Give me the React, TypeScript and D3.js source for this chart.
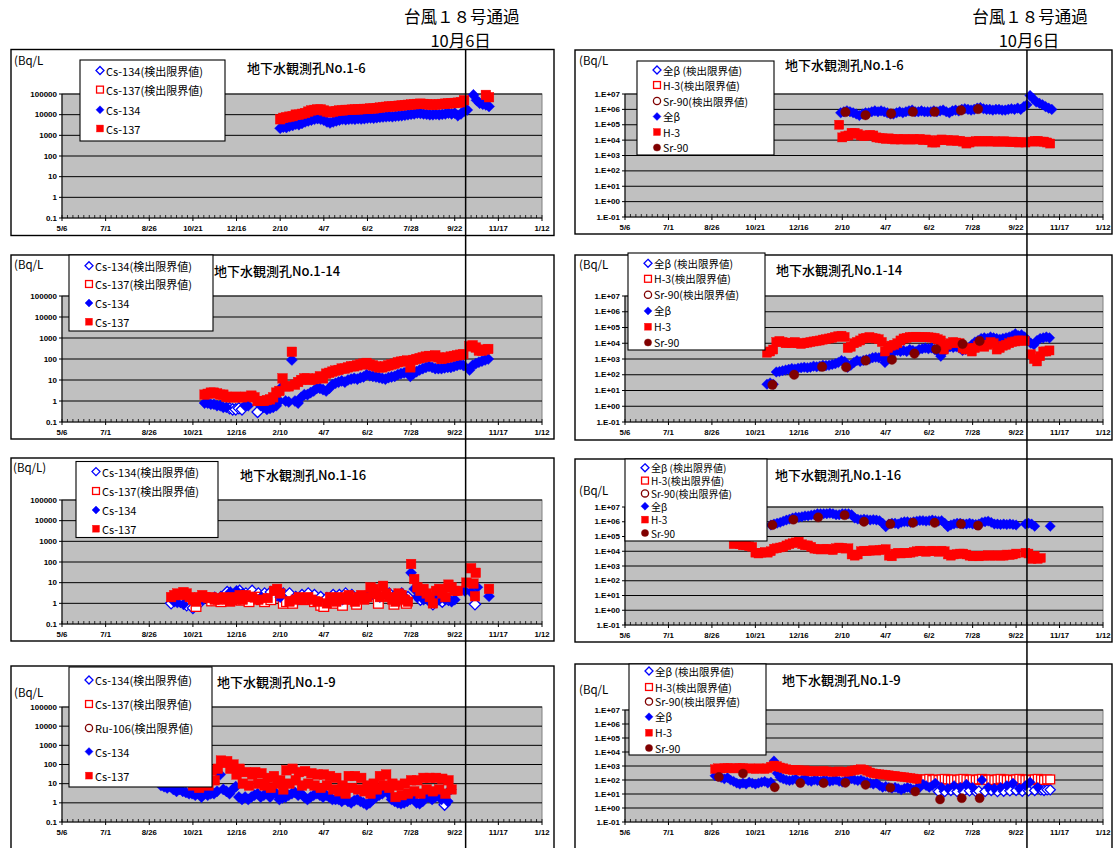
import React, { useEffect } from "react";
import * as d3 from "d3";

// ---------------- axis / label data ----------------
const X_START = "2013-05-06";
const X_END = "2015-01-12";
const X_TICK_DATES = ["2013-05-06", "2013-07-01", "2013-08-26", "2013-10-21", "2013-12-16", "2014-02-10", "2014-04-07", "2014-06-02", "2014-07-28", "2014-09-22", "2014-11-17", "2015-01-12"];
const TYPHOON_DATE = "2014-10-06";
const TYPHOON_LABEL = "台風１８号通過";
const TYPHOON_DATE_LABEL = "10月6日";
const CS_TICKS = [0.1, 1, 10, 100, 1000, 10000, 100000];
const BETA_TICKS = [0.1, 1, 10, 100, 1e3, 1e4, 1e5, 1e6, 1e7];
const UNIT = "(Bq/L";
const UNIT_CLOSED = "(Bq/L)";
const CS_LEGEND = ["Cs-134(検出限界値)", "Cs-137(検出限界値)", "Cs-134", "Cs-137"];
const CS_LEGEND_19 = ["Cs-134(検出限界値)", "Cs-137(検出限界値)", "Ru-106(検出限界値)", "Cs-134", "Cs-137"];
const BETA_LEGEND = ["全β (検出限界値)", "H-3(検出限界値)", "Sr-90(検出限界値)", "全β", "H-3", "Sr-90"];
const TITLES = ["地下水観測孔No.1-6", "地下水観測孔No.1-14", "地下水観測孔No.1-16", "地下水観測孔No.1-9"];

// ---------------- No.1-6 Cs ----------------
const L1_START = "2014-02-10";
const L1_CS134 = [2200, 2500, 2400, 2800, 3000, 3500, 3300, 3800, 4500, 5000, 5500, 6000, 6500, 6000, 5500, 4500, 4000, 4500, 5000, 5500,
  6000, 5800, 6000, 6200, 6000, 6500, 6200, 6500, 6800, 7000, 6800, 7200, 7500, 7800, 8000, 8200, 8000, 8500, 8800, 9000,
  9500, 10000, 10500, 11000, 12000, 11500, 11000, 10500, 10000, 10000, 10500, 10000, 10500, 11000, 12000, 11000, 12000, 9000, 11000, 15000,
  17000, null, 90000, 50000, 36000, 32000, 30000, 25000];
const L1_CS137 = [6000, 7000, 7500, 8000, 8500, 10000, 10000, 11000, 12000, 14000, 16000, 17000, 18000, 18000, 16000, 14000, 13000, 14000, 15000, 16000,
  16000, 17000, 17000, 17500, 18000, 18000, 18500, 19000, 19000, 20000, 20000, 21000, 22000, 23000, 24000, 25000, 25000, 26000, 27000, 28000,
  29000, 30000, 31000, 32000, 33000, 34000, 33000, 32000, 31000, 30000, 31000, 32000, 33000, 34000, 35000, 36000, 37000, 38000, 40000, 50000,
  null, null, null, null, null, null, 90000, 70000];

// ---------------- No.1-14 Cs ----------------
const L2_START = "2013-11-05";
const L2_CS134 = [0.8, 0.8, 0.7, 0.7, 0.6, 0.6, 0.5, 0.5, null, null, null, null, null, 0.6, 0.6, null, null, null, 0.6, 0.5,
  0.4, 0.45, 0.5, 0.6, 1, 5, 1, 0.9, 90, 1, 0.8, 1.5, 2, 2, 2.5, 3, 4, 4, 3.5, 3,
  4, 6, 7, 8, 9, 8, 10, 11, 12, 11, 13, 14, 18, 16, 15, 14, 13, 12, 11, 13,
  14, 15, 18, 20, 22, 25, 15, 20, 25, 30, 35, 40, 45, 40, 35, 35, 35, 38, 40, 40,
  45, 50, 55, 50, null, 30, 50, 60, 70, 80, 90, 100];
const L2_CS134_DL: [string, number][] = [["2013-12-07", 0.45], ["2013-12-11", 0.4], ["2013-12-15", 0.4], ["2013-12-19", 0.45], ["2013-12-23", 0.4], ["2014-01-12", 0.3]];
const L2_CS137 = [2, 2.2, 2.5, 2.5, 2.3, 2, 2, 1.6, 1.5, 1.5, 1.6, 1.5, 1.5, 1.6, null, 1.8, 1.5, 1.0, 1.0, 1.0,
  1.1, 1.2, 1.5, 2.5, 3, 12, 5, 5, 220, 6, 8, 10, 12, 12, 10, 11, 12, 15, 12, 20,
  22, 25, 28, 30, 35, 35, 40, 45, 45, 50, 55, 60, 65, 55, 50, 45, 40, 40, 45, 50,
  55, 60, 70, 75, 80, 85, 40, 90, 100, 110, 120, 130, 140, 130, 150, 120, 100, 110, 120, 130,
  140, 150, 160, 170, null, 400, 450, 350, 250, 250, 280, 300];

// ---------------- No.1-16 Cs ----------------
const L3_START = "2013-09-23";
const L3_CS137 = [2, 2.5, 3, 2.5, 3.5, 3, 2, 1.5, 1.2, 2,
  2.5, 2, 1.8, 2, 1.5, 1.5, 1.8, 2, 1.5, 1.2,
  2, 1.5, 2.5, 1.5, 2.5, null, 2, null, 1.5, null,
  null, 1.8, null, 4, 5, 3, null, null, 1.2, null,
  1.5, 2, 1.5, null, 2, 1.5, null, 1.2, null, null,
  1, 2, 1.5, 1.2, 2, null, 1.5, 2.5, 1.5, 1.2,
  2, 2.5, 1.5, 2, 6, 5, 3, 2, 7, 3,
  2, 1.5, 1.2, 3, 2.5, 1.5, 1.2, 80, 15, 6,
  4, 5, 3, 2, 1, 4, 5, 3, 2, 8,
  6, 4, 4];
const L3_CS137_POST: [string, number][] = [["2014-10-07", 10], ["2014-10-13", 50], ["2014-10-16", 9], ["2014-10-19", 30], ["2014-10-18", 2.2], ["2014-11-05", 5]];
const L3_CS137_DL: [string, number][] = [["2013-10-25", 0.7], ["2013-11-14", 1.3], ["2013-11-26", 1.2], ["2013-12-10", 1.5], ["2013-12-22", 1.4], ["2014-01-01", 1.2], ["2014-01-09", 2], ["2014-01-17", 1.5], ["2014-01-21", 1.2], ["2014-01-29", 1.5], ["2014-02-14", 1], ["2014-02-18", 1.2], ["2014-02-26", 1], ["2014-03-14", 1.5], ["2014-03-26", 1.2], ["2014-04-03", 0.8], ["2014-04-07", 0.7], ["2014-04-21", 1], ["2014-05-01", 0.8], ["2014-05-19", 0.9], ["2014-06-16", 1], ["2014-07-06", 0.9], ["2014-07-22", 1]];
const L3_CS134: [string, number][] = [["2013-09-27", 1.2], ["2013-10-01", 1.1], ["2013-10-09", 0.9], ["2013-11-02", 1.5], ["2013-11-18", 2], ["2013-12-08", 3.5], ["2013-12-16", 4], ["2013-12-24", 3], ["2014-01-17", 2], ["2014-02-10", 2], ["2014-03-06", 1.5], ["2014-05-01", 1.5], ["2014-06-02", 2], ["2014-06-18", 2], ["2014-07-04", 1.5], ["2014-07-20", 2], ["2014-07-28", 30], ["2014-08-01", 5], ["2014-08-05", 2], ["2014-08-13", 1.5], ["2014-08-21", 1.2], ["2014-08-29", 2], ["2014-09-02", 1.5], ["2014-09-10", 1.5], ["2014-09-18", 1.2], ["2014-09-22", 1.5], ["2014-10-05", 4], ["2014-10-13", 3.5], ["2014-10-21", 6], ["2014-11-05", 2.2]];
const L3_CS134_DL: [string, number][] = [["2013-09-23", 1], ["2013-10-05", 1.2], ["2013-10-13", 0.8], ["2013-10-21", 0.6], ["2013-10-29", 1], ["2013-11-14", 1.5], ["2013-11-26", 2], ["2013-12-04", 3.5], ["2013-12-12", 2.5], ["2013-12-20", 4], ["2013-12-28", 3], ["2014-01-05", 4], ["2014-01-13", 3], ["2014-01-21", 3], ["2014-01-29", 3.5], ["2014-02-06", 2.5], ["2014-02-14", 3], ["2014-02-22", 3], ["2014-03-02", 2], ["2014-03-10", 2.5], ["2014-03-18", 3], ["2014-03-26", 2.5], ["2014-04-03", 2], ["2014-04-11", 1.8], ["2014-04-19", 2.5], ["2014-04-27", 2.5], ["2014-05-05", 3], ["2014-05-13", 2.5], ["2014-05-21", 2], ["2014-05-29", 2], ["2014-06-06", 2.5], ["2014-06-14", 2], ["2014-06-22", 3], ["2014-06-30", 3], ["2014-07-08", 2.5], ["2014-07-16", 3], ["2014-07-24", 2], ["2014-08-09", 1.5], ["2014-08-25", 0.9], ["2014-09-06", 1.2], ["2014-09-14", 1.5], ["2014-10-18", 0.9]];

// ---------------- No.1-9 Cs ----------------
const L4_CS134_START = "2013-09-10";
const L4_CS134 = [8, 7, 6, 7, 5, 4, 5, 4, 3.5, 3, 3, 2.5, 3, 2, 3, 2.5, 3, 3, 4, 30,
  5, 4, 3, 5, 7, 2, 1.5, 2, 1.5, 2, 2.5, 3, 2, 2.5, 3, 2, 4, 3, 1.5, 1.8,
  2, 2.5, 3, 3.5, 2.5, 3, 2, 1.5, 2, 2.5, 3, 2.5, 2, 2.5, 2, 1.5, 1.5, 1.5, 1.2, 1.5,
  1.2, 1, 1.3, 1.5, 1.2, 1, 0.8, 1, 1.5, 2, 2.5, 3, 5, 3, 1.5, 1.2, 1, 0.9, 1, 1.2,
  1.5, 2, 1, 0.9, 1.2, 2, 2, 1.5, 2, 2.5, 1.5, null, 1.2, 5];
const L4_CS134_DL: [string, number][] = [["2014-09-09", 0.8]];
const L4_CS137_START = "2013-10-21";
const L4_CS137 = [8, 30, 6, 25, 40, 8, 50, 15, 60, 160, 120, 150, 60, 100, 30, 60, 10, 40, 8, 30,
  40, 10, 35, 8, 20, 6, 25, 10, 15, 5, 50, 10, 60, 15, 40, 8, 45, 10, 35, 8,
  30, 6, 30, 8, 25, 5, 20, 4, 8, 3, 25, 6, 25, 5, 20, 4, 8, 3, 10, 5,
  25, 8, 30, 6, 10, 2, 8, 2.5, 10, 3, 15, 4, 15, 3, 20, 5, 20, 4, 20, 5,
  18, 3, 15, 5];

// ---------------- No.1-6 beta / H-3 / Sr-90 ----------------
const R1_BETA_START = "2014-02-08";
const R1_BETA = [6e5, 7e5, 8e5, 7e5, 6e5, 5e5, 4e5, 5e5, 6e5, 6e5, 7e5, 8e5, 7e5, 8e5, 7e5, 6e5, 5e5, 5e5, 6e5, 7e5,
  6e5, 7e5, 8e5, 9e5, 7e5, 7e5, 8e5, 7e5, 7e5, 7e5, 8e5, 7e5, 8e5, 9e5, 7e5, 6e5, 8e5, 9e5, 8e5, 1e6,
  1.1e6, 1e6, 9e5, 1e6, 1.2e6, 1.3e6, 1.1e6, 1e6, 1e6, 9e5, 1e6, 1e6, 9e5, 9e5, 1e6, 1.1e6, 1e6, 1.2e6, 1e6, 1.5e6,
  2e6, 8e6, 5e6, 3e6, 2.5e6, 2e6, 1.5e6, 1.2e6, 1e6];
const R1_H3_START = "2014-02-10";
const R1_H3 = [1.5e4, 1.8e4, 2e4, 3e4, 3e4, 2.5e4, 2e4, 1.8e4, 2e4, 2.2e4, 2e4, 1.5e4, 1.4e4, 1.3e4, 1.2e4, 1.3e4, 1.2e4, 1.1e4, 1.2e4, 1.1e4,
  1.2e4, 1.1e4, 1.1e4, 1.2e4, 1.1e4, 1.2e4, 1e4, 1.1e4, 1e4, 7e3, 7e3, 1e4, 1.1e4, 1e4, 1e4, 9e3, 1e4, 9e3, 9e3, 8e3,
  6e3, 7e3, 8e3, 8.5e3, 9e3, 8e3, 8.5e3, 9e3, 8e3, 8.5e3, 8e3, 8e3, 8.5e3, 8e3, 7.5e3, 8e3, 7.5e3, 7e3, 7.5e3, 7e3,
  null, 8e3, 9e3, 9e3, 8e3, 8e3, 7e3, 6e3];
const R1_H3_EXTRA: [string, number][] = [["2014-02-06", 1e5]];
const R1_SR90: [string, number][] = [["2014-02-14", 6.7e5], ["2014-03-12", 4.2e5], ["2014-04-14", 5.3e5], ["2014-05-12", 7e5], ["2014-06-09", 7e5], ["2014-07-13", 8.6e5], ["2014-08-04", 1.05e6]];

// ---------------- No.1-14 beta / H-3 / Sr-90 ----------------
const R2_START = "2013-11-05";
const R2_H3 = [2.5e3, 3e3, 4e3, 1.2e4, 1.4e4, 1.2e4, 1e4, 1.1e4, 1e4, 1.2e4, 1e4, 9e3, 1e4, 1.1e4, 1.2e4, 1.3e4, 1.4e4, 1.5e4, 1.7e4, 1.8e4,
  2e4, 2.2e4, 2.5e4, 2.8e4, 3e4, 2.5e4, 5e3, 6e3, 1e4, 1.2e4, 1.5e4, 2e4, 2.2e4, 2.5e4, 2.2e4, 2e4, 1.8e4, 1.2e4, 3e3, 5e3,
  7e3, 8e3, 1e4, 1.5e4, 2e4, 2.2e4, 2.5e4, 2.5e4, 2.6e4, 2.5e4, 2.4e4, 2.5e4, 2.4e4, 2.3e4, 2.2e4, 1.8e4, 1.5e4, 4e3, 8e3, 1e4,
  1.2e4, 1.1e4, 1e4, 5e3, 4e3, 5e3, 3e3, 5e3, 7e3, 8e3, 6e3, 8e3, 1.2e4, 1e4, 4e3, 5e3, 7e3, 8e3, 1e4, 1.2e4,
  1.3e4, 1.5e4, 1.5e4, 1.4e4, null, 2e3, 1e3, 7e2, 1.5e3, 3e3, 3e3, 3.5e3];
const R2_BETA = [25, 30, 25, 150, 160, 180, 200, 220, 250, 230, 260, 280, 300, 280, 300, 350, 320, 350, 400, 380,
  400, 450, 500, 600, 800, 700, 300, 400, 600, 800, 700, 800, 900, 1000, 1200, 1300, 1200, 1500, 600, 1500,
  2500, 3000, 3500, 3000, 3500, 3000, 4000, 3500, 3000, 4000, 4500, 5000, 4500, 5000, 4000, 3000, 1500, 3000, 5000, 6000,
  5500, 6000, 5000, 3500, 4000, 5000, 8000, 1.2e4, 1.5e4, 2e4, 2.2e4, 2e4, 2.5e4, 2.2e4, 2e4, 1.8e4, 2e4, 2.2e4, 2.5e4, 3e4,
  4e4, 3e4, 3.5e4, 2.5e4, 1.5e4, 1e4, 8e3, 1.5e4, 2e4, 2.2e4, 2.5e4, 2.2e4];
const R2_SR90: [string, number][] = [["2013-11-12", 23], ["2013-12-10", 100], ["2014-01-15", 320], ["2014-02-15", 300], ["2014-03-12", 800], ["2014-04-15", 900], ["2014-05-14", 2200], ["2014-06-11", 4200], ["2014-07-15", 9000], ["2014-08-06", 1.4e4]];

// ---------------- No.1-16 beta / H-3 / Sr-90 ----------------
const R3_H3_START = "2013-09-23";
const R3_H3 = [3e4, 3.5e4, 3e4, 2.5e4, 2.5e4, 2.2e4, 2e4, 8e3, 7e3, 8e3, 9e3, 8e3, 1e4, 1.5e4, 1.6e4, 1.8e4, 2e4, 2.5e4, 3e4, 3.5e4,
  4e4, 4.5e4, 3e4, 2.5e4, 2.5e4, 2e4, 1.5e4, 1.4e4, 1.3e4, 1.4e4, 1.5e4, 1.3e4, 1.2e4, 1.6e4, 1.8e4, 1.7e4, 1.5e4, 1.6e4, 6e3, 5e3,
  6e3, 1e4, 1.1e4, 1e4, 1.1e4, 1.2e4, 1.1e4, 1.2e4, 1.3e4, 1.4e4, 5e3, 4.5e3, 7e3, 8e3, 7e3, 8e3, 7.5e3, 8e3, 9e3, 1e4,
  1.1e4, 1e4, 9e3, 1e4, 1.1e4, 1e4, 9e3, 1.1e4, 1e4, 6e3, 5e3, 6e3, 6.5e3, 7e3, 7e3, 6e3, 5e3, 4.5e3, 5e3, 4.5e3,
  5e3, 5e3, 5.5e3, 5e3, 5e3, 5.5e3, 5e3, 5e3, 6e3, 5.5e3, 6e3, 7e3, null, null, 8e3, 7e3, 3e3, 5e3, 3e3, 3.5e3];
const R3_BETA_START = "2013-11-10";
const R3_BETA = [6e5, 7e5, 8e5, 9e5, 1.1e6, 1.3e6, 1.5e6, 1.8e6, 2e6, 2e6, 2.2e6, 2.5e6, 2.5e6, 2.8e6, 3e6, 3.5e6, 3.5e6, 3.5e6, 3.5e6, 3.8e6,
  3.5e6, 3e6, 3e6, 3.5e6, 3.5e6, 3.5e6, 3e6, 1.8e6, 1.5e6, 1.4e6, 1.5e6, 1.4e6, 1.3e6, 1.4e6, 1.3e6, 1.2e6, 8e5, 4.6e5, 7e5, 8e5,
  8e5, 7e5, 9e5, 1e6, 1e6, 9e5, 1e6, 1.1e6, 1.2e6, 1.2e6, 1.1e6, 1.2e6, 1.3e6, 1.2e6, 1.1e6, 1.2e6, 8e5, 4.6e5, 6e5, 7e5,
  8e5, 8e5, 7e5, 7e5, 8e5, 7e5, 6.5e5, 7e5, 9e5, 1e6, 1.1e6, 9e5, 7e5, 7e5, 6.5e5, 7e5, 6.5e5, 7e5, 6.5e5, 6e5,
  null, null, 7e5, 8e5, 7e5, 5e5, null];
const R3_BETA_EXTRA: [string, number][] = [["2014-11-05", 5e5]];
const R3_SR90: [string, number][] = [["2013-11-12", 6e5], ["2013-12-09", 1.4e6], ["2014-01-10", 2e6], ["2014-02-13", 2.8e6], ["2014-03-10", 1e6], ["2014-04-13", 7e5], ["2014-05-12", 8.5e5], ["2014-06-09", 8.5e5], ["2014-07-13", 7e5], ["2014-08-04", 5.5e5]];

// ---------------- No.1-9 beta / H-3 / Sr-90 ----------------
const R4_START = "2013-08-30";
const R4_H3 = [600, 700, 650, 700, 750, 700, 650, 700, 750, 700, 650, 700, 650, 600, 700, 650, 600, 700, 900, 1100,
  1000, 800, 700, 600, 550, 500, 550, 500, 450, 500, 450, 400, 450, 420, 400, 450, 420, 400, 380, 400,
  420, 400, 380, 400, 450, 500, 550, 600, 550, 450, 350, 300, 280, 260, 250, 240, 220, 200, 200, 180,
  170, 160, 150, 140, 130, 120];
const R4_H3_DL_START = "2014-05-21";
const R4_H3_DL = [110, 100, 110, 120, 100, 110, 100, 110, 120, 110, 100, 110, 100, 110, 120, 110, 100, 110, 100, 110,
  120, 110, 100, 110, 100, 110, 120, 110, 100, 110, 100, 110, 120, 110, 100, 110, 100, 110, 120, 110, 100, 110, 110];
const R4_BETA = [200, 180, 150, 120, 150, 100, 80, 60, 50, 60, 50, 70, 60, 50, 60, 70, 80, 60, 70, 2300,
  300, 150, 120, 100, 90, 100, 120, 80, 100, 120, 90, 80, 100, 90, 80, 100, 90, 80, 90, 100,
  80, 70, 90, 100, 120, 100, 90, 100, 80, 70, 60, 50, 60, 40, 30, 35, 30, 25, 30, 25,
  20, 25, 30, 25, 20, 25, 30, 50, 40, 30];
const R4_BETA_LATE: [string, number][] = [["2014-06-06", 40], ["2014-06-10", 60], ["2014-06-18", 30], ["2014-06-26", 25], ["2014-07-04", 40], ["2014-07-12", 30], ["2014-07-20", 50], ["2014-07-28", 30], ["2014-08-09", 100], ["2014-08-17", 30], ["2014-08-25", 25], ["2014-09-02", 30], ["2014-09-10", 40], ["2014-09-18", 60], ["2014-09-26", 25], ["2014-10-04", 40], ["2014-10-10", 70], ["2014-10-20", 30]];
const R4_BETA_DL: [string, number][] = [["2014-06-14", 15], ["2014-06-22", 15], ["2014-06-30", 18], ["2014-07-08", 15], ["2014-07-16", 15], ["2014-07-24", 17], ["2014-08-01", 15], ["2014-08-05", 16], ["2014-08-13", 15], ["2014-08-21", 18], ["2014-08-29", 15], ["2014-09-06", 16], ["2014-09-14", 17], ["2014-09-22", 18], ["2014-09-30", 16], ["2014-10-08", 17], ["2014-10-16", 18], ["2014-10-24", 20], ["2014-10-28", 18], ["2014-11-01", 20], ["2014-11-05", 20]];
const R4_SR90: [string, number][] = [["2013-09-04", 165], ["2013-10-05", 290], ["2013-11-15", 30], ["2013-12-18", 60], ["2014-01-17", 60], ["2014-02-14", 63], ["2014-03-12", 45], ["2014-04-13", 28], ["2014-05-15", 15], ["2014-06-16", 4.1], ["2014-07-14", 5], ["2014-08-06", 5]];

// ---------------- helpers ----------------
type Pt = [Date, number];
type Shape = "diamond" | "square" | "circle";
const parseDate = d3.timeParse("%Y-%m-%d");
const D = (s: string) => parseDate(s) as Date;
function seq(start: string, step: number, values: (number | null)[]): Pt[] {
  const s = D(start);
  const out: Pt[] = [];
  values.forEach((v, i) => { if (v != null) out.push([d3.timeDay.offset(s, i * step), v]); });
  return out;
}
function pts(list: [string, number][]): Pt[] { return list.map(([d, v]) => [D(d), v] as Pt); }

const BLUE = "#0000FF";
const RED = "#FF0000";
const DARKRED = "#800000";
const JP = "'Noto Sans CJK JP', 'Noto Sans', sans-serif";
const NUM = "'Liberation Sans', Arial, sans-serif";

const csFmt = (v: number) => (v < 1 ? "0.1" : String(v));
const betaFmt = (v: number) => {
  const e = Math.round(Math.log10(v));
  return `1.E${e < 0 ? "-" : "+"}${String(Math.abs(e)).padStart(2, "0")}`;
};

type Series = { shape: Shape; color: string; open: boolean; data: Pt[] };
type LegendItem = { shape: Shape; color: string; open: boolean; label: string };
type PanelCfg = {
  frame: [number, number, number, number];
  plot: { x0: number; x1: number; y0: number; y1: number };
  domain: [number, number];
  ticks: number[];
  fmt: (v: number) => string;
  title: string; titleX: number; titleY: number;
  unit: string; unitX: number; unitY: number;
  legend: { x: number; y: number; w: number; h: number; rows: number[]; items: LegendItem[]; fs: number };
  series: Series[];
  ms: number;
};

const csLegendItems = (labels: string[]): LegendItem[] => {
  const styles: { shape: Shape; color: string; open: boolean }[] = labels.length === 4
    ? [{ shape: "diamond", color: BLUE, open: true }, { shape: "square", color: RED, open: true }, { shape: "diamond", color: BLUE, open: false }, { shape: "square", color: RED, open: false }]
    : [{ shape: "diamond", color: BLUE, open: true }, { shape: "square", color: RED, open: true }, { shape: "circle", color: DARKRED, open: true }, { shape: "diamond", color: BLUE, open: false }, { shape: "square", color: RED, open: false }];
  return labels.map((l, i) => ({ ...styles[i], label: l }));
};
const betaLegendItems = (): LegendItem[] => {
  const styles: { shape: Shape; color: string; open: boolean }[] = [
    { shape: "diamond", color: BLUE, open: true }, { shape: "square", color: RED, open: true }, { shape: "circle", color: DARKRED, open: true },
    { shape: "diamond", color: BLUE, open: false }, { shape: "square", color: RED, open: false }, { shape: "circle", color: DARKRED, open: false }];
  return BETA_LEGEND.map((l, i) => ({ ...styles[i], label: l }));
};

const LP = (y0: number, y1: number) => ({ x0: 62, x1: 542, y0, y1 });
const RP = (y0: number, y1: number) => ({ x0: 625, x1: 1103, y0, y1 });

const PANELS: PanelCfg[] = [
  {
    frame: [11, 49.5, 543, 186], plot: LP(94, 218), domain: [0.1, 1e5], ticks: CS_TICKS, fmt: csFmt,
    title: TITLES[0], titleX: 247, titleY: 67, unit: UNIT, unitX: 14, unitY: 60,
    legend: { x: 80, y: 60, w: 145, h: 81, rows: [70.5, 89.6, 109.8, 128.5], items: csLegendItems(CS_LEGEND), fs: 11 },
    series: [
      { shape: "diamond", color: BLUE, open: false, data: seq(L1_START, 4, L1_CS134) },
      { shape: "square", color: RED, open: false, data: seq(L1_START, 4, L1_CS137) },
    ], ms: 5.6,
  },
  {
    frame: [11, 255, 543, 184], plot: LP(296, 422), domain: [0.1, 1e5], ticks: CS_TICKS, fmt: csFmt,
    title: TITLES[1], titleX: 214, titleY: 270, unit: UNIT, unitX: 14, unitY: 264,
    legend: { x: 69, y: 255, w: 144, h: 76, rows: [265.7, 284, 303, 321.7], items: csLegendItems(CS_LEGEND), fs: 11 },
    series: [
      { shape: "diamond", color: BLUE, open: true, data: pts(L2_CS134_DL) },
      { shape: "diamond", color: BLUE, open: false, data: seq(L2_START, 4, L2_CS134) },
      { shape: "square", color: RED, open: false, data: seq(L2_START, 4, L2_CS137) },
    ], ms: 5.6,
  },
  {
    frame: [11, 458, 543, 183], plot: LP(500, 624), domain: [0.1, 1e5], ticks: CS_TICKS, fmt: csFmt,
    title: TITLES[2], titleX: 240, titleY: 474, unit: UNIT_CLOSED, unitX: 13, unitY: 467,
    legend: { x: 76, y: 461.5, w: 142, h: 76, rows: [471.6, 491, 510, 528.7], items: csLegendItems(CS_LEGEND), fs: 11 },
    series: [
      { shape: "diamond", color: BLUE, open: true, data: pts(L3_CS134_DL) },
      { shape: "square", color: RED, open: true, data: pts(L3_CS137_DL) },
      { shape: "diamond", color: BLUE, open: false, data: pts(L3_CS134) },
      { shape: "square", color: RED, open: false, data: [...seq(L3_START, 4, L3_CS137), ...pts(L3_CS137_POST)] },
    ], ms: 5.6,
  },
  {
    frame: [11, 666, 543, 200], plot: LP(707, 822), domain: [0.1, 1e5], ticks: CS_TICKS, fmt: csFmt,
    title: TITLES[3], titleX: 217, titleY: 681, unit: UNIT, unitX: 14, unitY: 692,
    legend: { x: 69, y: 667, w: 143, h: 120, rows: [680, 704, 728, 751.6, 775.6], items: csLegendItems(CS_LEGEND_19), fs: 11 },
    series: [
      { shape: "diamond", color: BLUE, open: true, data: pts(L4_CS134_DL) },
      { shape: "diamond", color: BLUE, open: false, data: seq(L4_CS134_START, 4, L4_CS134) },
      { shape: "square", color: RED, open: false, data: seq(L4_CS137_START, 4, L4_CS137) },
    ], ms: 5.6,
  },
  {
    frame: [575, 50, 537, 184], plot: RP(94, 217), domain: [0.1, 1e7], ticks: BETA_TICKS, fmt: betaFmt,
    title: TITLES[0], titleX: 785, titleY: 64, unit: UNIT, unitX: 579, unitY: 60,
    legend: { x: 637, y: 61, w: 137, h: 94, rows: [70, 85, 101, 116.5, 132, 147.5], items: betaLegendItems(), fs: 10.5 },
    series: [
      { shape: "diamond", color: BLUE, open: false, data: seq(R1_BETA_START, 4, R1_BETA) },
      { shape: "square", color: RED, open: false, data: [...pts(R1_H3_EXTRA), ...seq(R1_H3_START, 4, R1_H3)] },
      { shape: "circle", color: DARKRED, open: false, data: pts(R1_SR90) },
    ], ms: 5.3,
  },
  {
    frame: [575, 255, 537, 185], plot: RP(296, 422), domain: [0.1, 1e7], ticks: BETA_TICKS, fmt: betaFmt,
    title: TITLES[1], titleX: 776, titleY: 269, unit: UNIT, unitX: 579, unitY: 264,
    legend: { x: 628, y: 253, w: 137, h: 97, rows: [263.3, 278.8, 294.7, 310.9, 326.7, 342.5], items: betaLegendItems(), fs: 10.5 },
    series: [
      { shape: "diamond", color: BLUE, open: false, data: seq(R2_START, 4, R2_BETA) },
      { shape: "square", color: RED, open: false, data: seq(R2_START, 4, R2_H3) },
      { shape: "circle", color: DARKRED, open: false, data: pts(R2_SR90) },
    ], ms: 5.3,
  },
  {
    frame: [575, 459, 537, 183], plot: RP(507, 625), domain: [0.1, 1e7], ticks: BETA_TICKS, fmt: betaFmt,
    title: TITLES[2], titleX: 775, titleY: 474, unit: UNIT, unitX: 579, unitY: 490,
    legend: { x: 625, y: 459, w: 142, h: 82, rows: [467.8, 480.6, 493.4, 506.2, 519.6, 533], items: betaLegendItems(), fs: 10 },
    series: [
      { shape: "diamond", color: BLUE, open: false, data: [...seq(R3_BETA_START, 4, R3_BETA), ...pts(R3_BETA_EXTRA)] },
      { shape: "square", color: RED, open: false, data: seq(R3_H3_START, 4, R3_H3) },
      { shape: "circle", color: DARKRED, open: false, data: pts(R3_SR90) },
    ], ms: 5.2,
  },
  {
    frame: [575, 664, 537, 200], plot: RP(710, 822), domain: [0.1, 1e7], ticks: BETA_TICKS, fmt: betaFmt,
    title: TITLES[3], titleX: 782, titleY: 679, unit: UNIT, unitX: 579, unitY: 689,
    legend: { x: 629, y: 664, w: 137, h: 91, rows: [671, 687, 701.6, 716.8, 732.7, 748], items: betaLegendItems(), fs: 10.5 },
    series: [
      { shape: "diamond", color: BLUE, open: true, data: pts(R4_BETA_DL) },
      { shape: "square", color: RED, open: true, data: seq(R4_H3_DL_START, 4, R4_H3_DL) },
      { shape: "diamond", color: BLUE, open: false, data: [...seq(R4_START, 4, R4_BETA), ...pts(R4_BETA_LATE)] },
      { shape: "square", color: RED, open: false, data: seq(R4_START, 4, R4_H3) },
      { shape: "circle", color: DARKRED, open: false, data: pts(R4_SR90) },
    ], ms: 5.1,
  },
];

function Marker({ shape, x, y, color, open, s }: { shape: Shape; x: number; y: number; color: string; open: boolean; s: number }) {
  const fill = open ? "#ffffff" : color;
  const sw = open ? 1.3 : 0.4;
  if (shape === "diamond") {
    return <path d={`M${x},${y - s}L${x + s},${y}L${x},${y + s}L${x - s},${y}Z`} fill={fill} stroke={color} strokeWidth={sw} />;
  }
  if (shape === "square") {
    const h = s * 0.86;
    return <rect x={x - h} y={y - h} width={2 * h} height={2 * h} fill={fill} stroke={color} strokeWidth={sw} />;
  }
  return <circle cx={x} cy={y} r={s * 0.9} fill={fill} stroke={color} strokeWidth={sw} />;
}

const xDomain = [D(X_START), D(X_END)];
const weekTicks = d3.range(0, 617, 7).map((d) => d3.timeDay.offset(D(X_START), d));
const fmtDate = (d: Date) => `${d.getMonth() + 1}/${d.getDate()}`;

function Panel({ cfg }: { cfg: PanelCfg }) {
  const { x0, x1, y0, y1 } = cfg.plot;
  const x = d3.scaleTime().domain(xDomain).range([x0, x1]);
  const y = d3.scaleLog().domain(cfg.domain).range([y1, y0]);
  const [fx, fy, fw, fh] = cfg.frame;
  const lg = cfg.legend;
  return (
    <g>
      <rect x={fx} y={fy} width={fw} height={fh} fill="#fff" stroke="#000" strokeWidth={1.4} />
      <rect x={x0} y={y0} width={x1 - x0} height={y1 - y0} fill="#C0C0C0" stroke="#808080" strokeWidth={1} />
      {cfg.ticks.slice(1).map((t) => (
        <line key={t} x1={x0} x2={x1} y1={y(t)} y2={y(t)} stroke="#000" strokeWidth={1} />
      ))}
      <line x1={x0} x2={x0} y1={y0} y2={y1} stroke="#000" strokeWidth={1} />
      <line x1={x0} x2={x1} y1={y1} y2={y1} stroke="#000" strokeWidth={1} />
      {cfg.ticks.map((t) => (
        <g key={"yt" + t}>
          <line x1={x0 - 3} x2={x0} y1={y(t)} y2={y(t)} stroke="#000" />
          <text x={x0 - 5} y={y(t)} textAnchor="end" dominantBaseline="central" fontFamily={NUM} fontWeight="bold" fontSize={8} fill="#000">{cfg.fmt(t)}</text>
        </g>
      ))}
      {weekTicks.map((d, i) => (
        <line key={"wt" + i} x1={x(d)} x2={x(d)} y1={y1 - 3} y2={y1} stroke="#000" strokeWidth={0.8} />
      ))}
      {X_TICK_DATES.map((s) => {
        const d = D(s);
        return (
          <g key={"xt" + s}>
            <line x1={x(d)} x2={x(d)} y1={y1} y2={y1 + 3} stroke="#000" />
            <text x={x(d)} y={y1 + 13} textAnchor="middle" fontFamily={NUM} fontWeight="bold" fontSize={7.8} fill="#000">{fmtDate(d)}</text>
          </g>
        );
      })}
      {cfg.series.map((se, si) => (
        <g key={"s" + si}>
          {se.data.map((p, i) => (
            <Marker key={i} shape={se.shape} x={x(p[0])} y={y(p[1])} color={se.color} open={se.open} s={cfg.ms} />
          ))}
        </g>
      ))}
      <rect x={lg.x} y={lg.y} width={lg.w} height={lg.h} fill="#fff" stroke="#000" strokeWidth={1.1} />
      {lg.items.map((it, i) => (
        <g key={"lg" + i}>
          <Marker shape={it.shape} x={lg.x + 20} y={lg.rows[i]} color={it.color} open={it.open} s={4} />
          <text x={lg.x + 26} y={lg.rows[i]} dominantBaseline="central" fontFamily={JP} fontSize={lg.fs} fill="#000">{it.label}</text>
        </g>
      ))}
      <text x={cfg.titleX} y={cfg.titleY} dominantBaseline="central" fontFamily={JP} fontSize={13} fontWeight={500} fill="#000">{cfg.title}</text>
      <text x={cfg.unitX} y={cfg.unitY} dominantBaseline="central" fontFamily={JP} fontSize={11.5} fill="#000">{cfg.unit}</text>
    </g>
  );
}

export default function App() {
  useEffect(() => { document.body.style.margin = "0"; }, []);
  const xl = d3.scaleTime().domain(xDomain).range([62, 542]);
  const xr = d3.scaleTime().domain(xDomain).range([625, 1103]);
  const tl = xl(D(TYPHOON_DATE));
  const tr = xr(D(TYPHOON_DATE));
  return (
    <svg width={1115} height={848} style={{ position: "absolute", left: 0, top: 0, display: "block" }}>
      <rect x={0} y={0} width={1115} height={848} fill="#fff" />
      {PANELS.map((p, i) => <Panel key={i} cfg={p} />)}
      <line x1={tl} x2={tl} y1={50} y2={848} stroke="#000" strokeWidth={1.5} />
      <line x1={tr} x2={tr} y1={50} y2={848} stroke="#000" strokeWidth={1.5} />
      {[tl - 4, tr + 3].map((cx, i) => (
        <g key={"ty" + i}>
          <text x={cx} y={23} textAnchor="middle" fontFamily={JP} fontSize={16.5} fill="#000">{TYPHOON_LABEL}</text>
          <text x={cx - 1} y={47} textAnchor="middle" fontFamily={JP} fontSize={16.5} fill="#000">{TYPHOON_DATE_LABEL}</text>
        </g>
      ))}
    </svg>
  );
}
